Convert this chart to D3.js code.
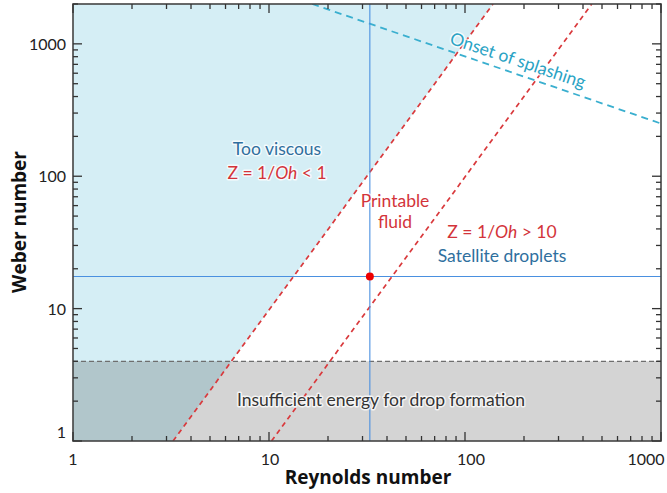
<!DOCTYPE html>
<html><head><meta charset="utf-8">
<script src="https://cdn.jsdelivr.net/npm/d3@7"></script>
<style>
body{margin:0;background:#fff;}
text{font-family:Lato,"Open Sans",sans-serif;}
text.title{font-family:"Open Sans",sans-serif;font-weight:bold;}
</style></head>
<body><svg id="c" width="667" height="493"></svg>
<script>
// ---- data ----
const xMajorTicks = [1, 10, 100, 1000];
const yMajorTicks = [1, 10, 100, 1000];
const xDomain = [1, 1000];
const yDomain = [1, 2000];
const minWeberForDrop = 4;            // lower bound for drop formation
const lowZLine = [[3.24, 1], [139, 2000]];   // Z = 1/Oh = 1 boundary (as drawn)
const highZLine = [[10.3, 1], [443, 2000]];  // Z = 1/Oh = 10 boundary (as drawn)
const splashLine = [[16.6, 2000], [1000, 250]];
const fluidPoint = {re: 32.7, we: 17.5};

// ---- layout ----
const svg = d3.select("#c");
const L = 73, R = 661, T = 4, B = 441;
const x = d3.scaleLog().domain(xDomain).range([L, R]);
const y = d3.scaleLog().domain(yDomain).range([B, T]);

svg.append("defs").append("clipPath").attr("id","clip")
  .append("rect").attr("x",L).attr("y",T).attr("width",R-L).attr("height",B-T);
const g = svg.append("g").attr("clip-path","url(#clip)");
const line = d3.line().x(d=>x(d[0])).y(d=>y(d[1]));

// too viscous region
const poly = [[xDomain[0], yDomain[0]], [xDomain[0], yDomain[1]], lowZLine[1], lowZLine[0]];
g.append("path").attr("d", line(poly) + "Z").attr("fill", "#d5eef5");

// insufficient energy region
g.append("rect").attr("x", L).attr("width", R-L)
  .attr("y", y(minWeberForDrop)).attr("height", B - y(minWeberForDrop))
  .attr("fill", "rgba(0,0,0,0.17)");
g.append("path").attr("d", line([[xDomain[0], minWeberForDrop],[xDomain[1], minWeberForDrop]]))
  .attr("stroke", "#6e6e6e").attr("stroke-width", 1.2).attr("stroke-dasharray", "5,3").attr("fill","none");

// Z lines
[lowZLine, highZLine].forEach(l => {
  g.append("path").attr("d", line(l)).attr("fill","none")
   .attr("stroke", "#d9393c").attr("stroke-width", 1.7).attr("stroke-dasharray", "5,4");
});
// splashing
g.append("path").attr("d", line(splashLine)).attr("fill","none")
  .attr("stroke", "#3aafcf").attr("stroke-width", 1.8).attr("stroke-dasharray", "7,5");

// crosshair
g.append("line").attr("x1", x(fluidPoint.re)).attr("x2", x(fluidPoint.re)).attr("y1", T).attr("y2", B)
  .attr("stroke", "#4a90e0").attr("stroke-width", 1.1);
g.append("line").attr("x1", L).attr("x2", R).attr("y1", y(fluidPoint.we)).attr("y2", y(fluidPoint.we))
  .attr("stroke", "#4a90e0").attr("stroke-width", 1.1);
g.append("circle").attr("cx", x(fluidPoint.re)).attr("cy", y(fluidPoint.we)).attr("r", 4).attr("fill", "#ee0000");

// annotations
function label(txt, px, py, color, opts={}) {
  const t = svg.append("text").attr("x", px).attr("y", py).attr("text-anchor", "middle")
    .attr("fill", color).attr("font-size", opts.size || 17.5)
    .attr("stroke", "rgba(255,255,255,0.75)").attr("stroke-width", 3).attr("paint-order","stroke")
    .attr("stroke-linejoin","round");
  if (opts.rotate) t.attr("transform", `rotate(${opts.rotate},${px},${py})`);
  if (Array.isArray(txt)) txt.forEach(p => t.append("tspan").attr("font-style", p[1] ? "italic" : null).text(p[0]));
  else t.text(txt);
  return t;
}
const blueTxt = "#2f6f9e", redTxt = "#d3343a";
label("Too viscous", 277, 155, blueTxt);
label([["Z = 1/"],["Oh",1],[" < 1"]], 277, 179, redTxt);
label("Printable", 395, 207, redTxt);
label("fluid", 395, 228, redTxt);
label([["Z = 1/"],["Oh",1],[" > 10"]], 502, 238, redTxt);
label("Satellite droplets", 502, 262, blueTxt);
label("Insufficient energy for drop formation", 381, 406, "#333");
label("Onset of splashing", 516, 66, "#2aa3c4", {rotate: 18.5});

// axes box
const axG = svg.append("g");
axG.append("rect").attr("x", L).attr("y", T).attr("width", R-L).attr("height", B-T)
  .attr("fill","none").attr("stroke","#444").attr("stroke-width",1.6);

const xAll = [], yAll = [];
for (let d = 1; d < 1000; d *= 10) for (let k = 1; k < 10; k++) xAll.push(d*k);
xAll.push(1000);
for (let d = 1; d < 2000; d *= 10) for (let k = 1; k < 10; k++) if (d*k <= 2000) yAll.push(d*k);
const isMajor = v => xMajorTicks.includes(v);
const tk = "#333";
xAll.forEach(v => {
  const len = isMajor(v) ? 9 : 5, px = x(v);
  axG.append("line").attr("x1",px).attr("x2",px).attr("y1",B).attr("y2",B-len).attr("stroke",tk).attr("stroke-width",1.3);
  axG.append("line").attr("x1",px).attr("x2",px).attr("y1",T).attr("y2",T+len).attr("stroke",tk).attr("stroke-width",1.3);
});
yAll.forEach(v => {
  const len = yMajorTicks.includes(v) ? 9 : 5, py = y(v);
  axG.append("line").attr("x1",L).attr("x2",L+len).attr("y1",py).attr("y2",py).attr("stroke",tk).attr("stroke-width",1.3);
  axG.append("line").attr("x1",R).attr("x2",R-len).attr("y1",py).attr("y2",py).attr("stroke",tk).attr("stroke-width",1.3);
});

// tick labels
const xLabelShift = {1: 0, 10: 1, 100: 6, 1000: -15};
xMajorTicks.forEach(v => {
  svg.append("text").attr("x", x(v) + xLabelShift[v]).attr("y", 465).attr("text-anchor","middle")
    .attr("font-size", 16).attr("fill","#222").text(v);
});
const yLabelShift = {1: -9, 10: 0, 100: 0, 1000: 0};
yMajorTicks.forEach(v => {
  svg.append("text").attr("x", 66).attr("y", y(v) + 6 + yLabelShift[v]).attr("text-anchor","end")
    .attr("font-size", 16).attr("fill","#222").text(v);
});

// axis titles
svg.append("text").attr("class","title").attr("x", 368).attr("y", 484).attr("text-anchor","middle")
  .attr("font-size", 19).attr("fill","#111").text("Reynolds number");
svg.append("text").attr("class","title").attr("transform","translate(26,222) rotate(-90)").attr("text-anchor","middle")
  .attr("font-size", 19).attr("fill","#111").text("Weber number");
</script></body></html>
